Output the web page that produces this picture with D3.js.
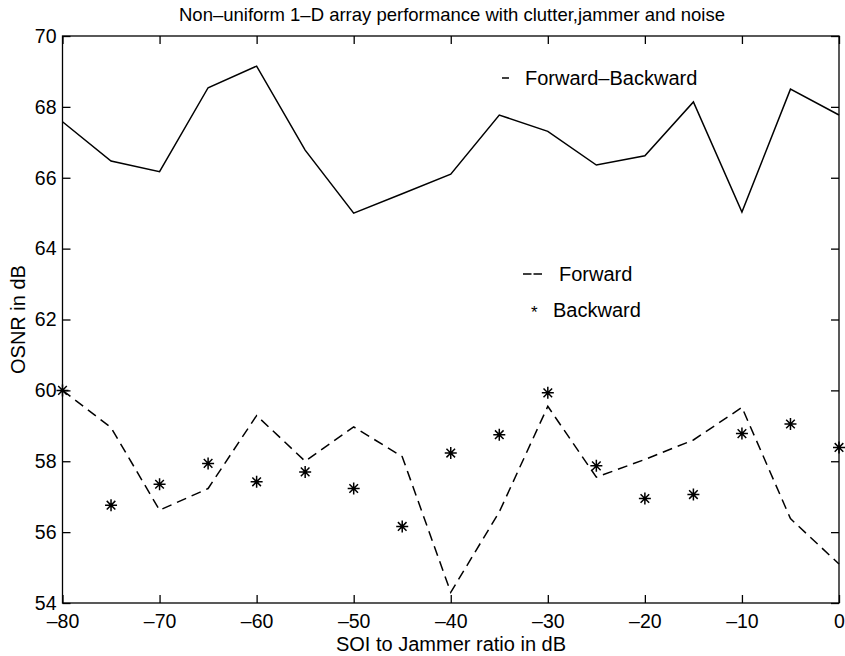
<!DOCTYPE html>
<html>
<head>
<meta charset="utf-8">
<script src="https://cdn.jsdelivr.net/npm/d3@7"></script>
<style>
  body { margin: 0; background: #fff; }
  svg { font-family: "Liberation Sans", Arial, sans-serif; }
</style>
</head>
<body>
<svg class="chart" width="845" height="656"></svg>
<script>
// SOI to jammer ratio (dB)
let ratio = [-80, -75, -70, -65, -60, -55, -50, -45, -40, -35, -30, -25, -20, -15, -10, -5, 0];
let forwardBackward = [67.58, 66.47, 66.17, 68.54, 69.15, 66.78, 65.0, 65.55, 66.1, 67.77, 67.31, 66.36, 66.62, 68.14, 65.03, 68.5, 67.77];
let forward = [60.0, 58.95, 56.62, 57.23, 59.29, 58.0, 58.97, 58.13, 54.3, 56.57, 59.55, 57.55, 58.05, 58.6, 59.52, 56.38, 55.1];
let backward = [60.0, 56.76, 57.35, 57.94, 57.42, 57.7, 57.23, 56.16, 58.23, 58.75, 59.93, 57.87, 56.95, 57.06, 58.78, 59.05, 58.39];
let xTicks = [-80, -70, -60, -50, -40, -30, -20, -10, 0];
let yTicks = [54, 56, 58, 60, 62, 64, 66, 68, 70];

let svg = d3.select("body").select(".chart");
let margin = { top: 36, right: 6, bottom: 53, left: 62.5 };
let plotWidth = 845 - margin.left - margin.right;
let plotHeight = 656 - margin.top - margin.bottom;

let x = d3.scaleLinear().domain([-80, 0]).range([0, plotWidth]);
let y = d3.scaleLinear().domain([54, 70]).range([plotHeight, 0]);

let plot = svg.append("g").attr("transform", translate(margin.left, margin.top));

// box
plot.append("rect")
  .attr("width", plotWidth).attr("height", plotHeight)
  .attr("fill", "none").attr("stroke", "#000").attr("stroke-width", 1.3);

let tickLen = 8;
let xAxis = d3.axisBottom(x).tickValues(xTicks).tickSize(-tickLen).tickFormat(d => d === 0 ? "0" : "\u2013" + Math.abs(d));
let yAxis = d3.axisLeft(y).tickValues(yTicks).tickSize(-tickLen).tickPadding(6).tickFormat(d3.format("d"));

let xGroup = plot.append("g").attr("transform", translate(0, plotHeight)).call(xAxis);
let yGroup = plot.append("g").call(yAxis);
plot.append("g").call(d3.axisTop(x).tickValues(xTicks).tickSize(-tickLen).tickFormat(""));
plot.append("g").attr("transform", translate(plotWidth, 0))
  .call(d3.axisRight(y).tickValues(yTicks).tickSize(-tickLen).tickFormat(""));

plot.selectAll(".domain").remove();
plot.selectAll(".tick line").attr("stroke", "#000").attr("stroke-width", 1.3);
xGroup.selectAll("text").attr("font-size", 19.5).attr("fill", "#000").attr("y", 25).attr("dy", 0);
yGroup.selectAll("text").attr("font-size", 19.5).attr("fill", "#000");

// title and labels
svg.append("text")
  .attr("transform", translate(452, 21))
  .attr("text-anchor", "middle").attr("font-size", 18.5)
  .text("Non\u2013uniform 1\u2013D array performance with clutter,jammer and noise");
svg.append("text")
  .attr("transform", translate(451, 651))
  .attr("text-anchor", "middle").attr("font-size", 20)
  .text("SOI to Jammer ratio in dB");
svg.append("text")
  .attr("transform", translate(25, margin.top + y(62)) + " rotate(-90)")
  .attr("text-anchor", "middle").attr("font-size", 20)
  .text("OSNR in dB");

// series
let line = d3.line().x((d, i) => x(ratio[i])).y(d => y(d));

plot.append("path")
  .datum(forwardBackward)
  .attr("d", line)
  .attr("fill", "none").attr("stroke", "#000").attr("stroke-width", 1.5);

plot.append("path")
  .datum(forward)
  .attr("d", line)
  .attr("fill", "none").attr("stroke", "#000").attr("stroke-width", 1.5)
  .attr("stroke-dasharray", "10,6");

let starPath = "M-6,0H6M0,-6V6M-4.3,-4.3L4.3,4.3M-4.3,4.3L4.3,-4.3";
plot.selectAll(".star")
  .data(backward)
  .enter().append("path")
  .attr("class", "star")
  .attr("transform", (d, i) => translate(x(ratio[i]), y(d)))
  .attr("d", starPath)
  .attr("fill", "none").attr("stroke", "#000").attr("stroke-width", 1.5);

// legend texts
let legend = svg.append("g").attr("font-size", 20);
legend.append("line").attr("x1", 502).attr("x2", 509).attr("y1", 78).attr("y2", 78)
  .attr("stroke", "#000").attr("stroke-width", 1.5);
legend.append("text").attr("x", 525).attr("y", 85).text("Forward\u2013Backward");

legend.append("line").attr("x1", 523).attr("x2", 542).attr("y1", 274).attr("y2", 274)
  .attr("stroke", "#000").attr("stroke-width", 1.5).attr("stroke-dasharray", "8.5,2");
legend.append("text").attr("x", 559).attr("y", 281).text("Forward");

legend.append("text").attr("x", 531).attr("y", 318).attr("font-size", 17).text("*");
legend.append("text").attr("x", 553).attr("y", 317).text("Backward");

function translate(x, y) {
  return 'translate(' + x + ',' + y + ')';
}
</script>
</body>
</html>
